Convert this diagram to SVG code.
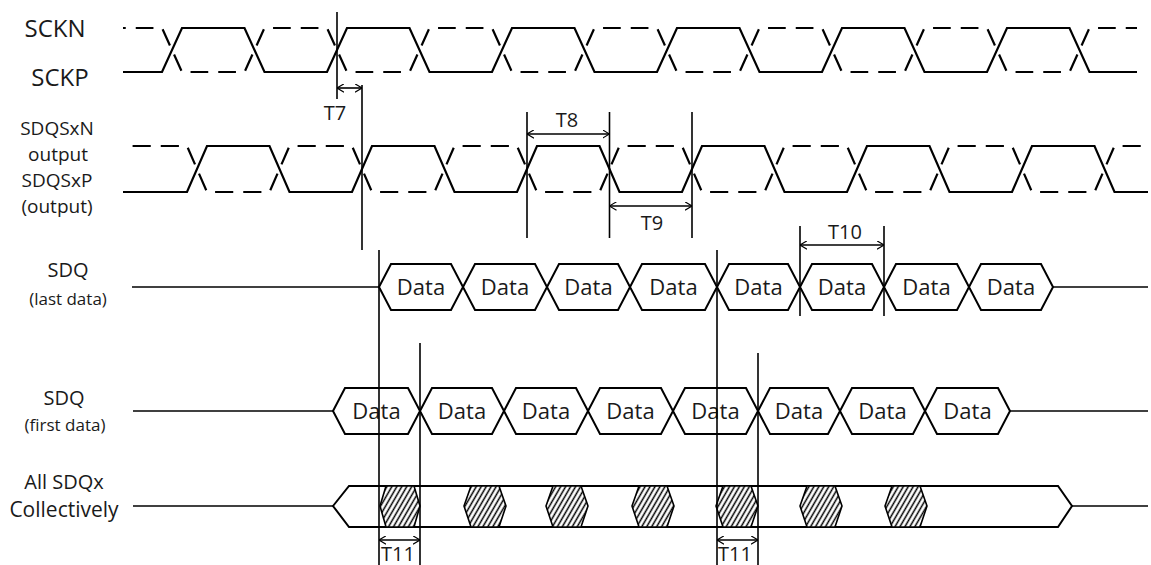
<svg xmlns="http://www.w3.org/2000/svg" width="1151" height="565" viewBox="0 0 1151 565">
<style>
text{font-family:"Open Sans","Noto Sans","Liberation Sans",sans-serif;fill:#1a1a1a}
.lbl{text-anchor:middle}
.sig{fill:none;stroke:#000;stroke-width:2.2;stroke-linejoin:miter}
.box{fill:#fff;stroke:#000;stroke-width:2}
.hat{fill:url(#hatch);stroke:#000;stroke-width:1.6}
.vl{stroke:#000;stroke-width:1.6;fill:none}
.arr{stroke:#000;stroke-width:1.6;fill:none;marker-start:url(#ah);marker-end:url(#ah)}
.dt{font-size:22px;text-anchor:middle}
.tl{font-size:20px;text-anchor:middle}
</style>
<defs>
<marker id="ah" viewBox="0 0 10 12" refX="10" refY="6" markerWidth="7" markerHeight="9" markerUnits="userSpaceOnUse" orient="auto-start-reverse">
<path d="M0,0 L10,6 L0,12" fill="none" stroke="#000" stroke-width="1.6"/>
</marker>
<pattern id="hatch" width="4.3" height="10" patternUnits="userSpaceOnUse" patternTransform="rotate(30)">
<rect width="4.3" height="10" fill="#fff"/>
<line x1="2.15" y1="0" x2="2.15" y2="10" stroke="#000" stroke-width="1.5"/>
</pattern>
</defs>
<rect width="1151" height="565" fill="#fff"/>

<g id="sck">
<text x="55" y="37" class="lbl" font-size="24">SCKN</text>
<text x="60" y="86" class="lbl" font-size="24">SCKP</text>
<path class="sig" d="M123,72 H162 L182,28 H244.5 L264.5,72 H327 L347,28 H409.5 L429.5,72 H492 L512,28 H574.5 L594.5,72 H657 L677,28 H739.5 L759.5,72 H822 L842,28 H904.5 L924.5,72 H987 L1007,28 H1069.5 L1089.5,72 H1137"/>
<path class="sig" stroke-dasharray="17.708 10" stroke-dashoffset="14.959" d="M123,28 H162 L182,72 H244.5 L264.5,28 H327 L347,72 H409.5 L429.5,28 H492 L512,72 H574.5 L594.5,28 H657 L677,72 H739.5 L759.5,28 H822 L842,72 H904.5 L924.5,28 H987 L1007,72 H1069.5 L1089.5,28 H1137"/>
</g>

<g id="sdqs">
<text x="57" y="135" class="lbl" font-size="19">SDQSxN</text>
<text x="58" y="161" class="lbl" font-size="19">output</text>
<text x="57" y="187" class="lbl" font-size="19">SDQSxP</text>
<text x="57" y="213" class="lbl" font-size="19">(output)</text>
<path class="sig" d="M123,192 H187 L207,146 H269.5 L289.5,192 H352 L372,146 H434.5 L454.5,192 H517 L537,146 H599.5 L619.5,192 H682 L702,146 H764.5 L784.5,192 H847 L867,146 H929.5 L949.5,192 H1012 L1032,146 H1094.5 L1114.5,192 H1148"/>
<path class="sig" stroke-dasharray="18.165 10" stroke-dashoffset="18.58" d="M123,146 H187 L207,192 H269.5 L289.5,146 H352 L372,192 H434.5 L454.5,146 H517 L537,192 H599.5 L619.5,146 H682 L702,192 H764.5 L784.5,146 H847 L867,192 H929.5 L949.5,146 H1012 L1032,192 H1094.5 L1114.5,146 H1148"/>
</g>

<g id="sdq-last">
<text x="68" y="277" class="lbl" font-size="20">SDQ</text>
<text x="68" y="305" class="lbl" font-size="17">(last data)</text>
<line x1="132" y1="287" x2="379" y2="287" class="vl" stroke-width="2"/>
<line x1="1053" y1="287" x2="1148" y2="287" class="vl" stroke-width="2"/>
<polygon class="box" points="379,287 391,264 451,264 463,287 451,310 391,310"/>
<polygon class="box" points="463,287 475,264 535,264 547,287 535,310 475,310"/>
<polygon class="box" points="547,287 559,264 618,264 630,287 618,310 559,310"/>
<polygon class="box" points="630,287 642,264 705,264 717,287 705,310 642,310"/>
<polygon class="box" points="717,287 729,264 788,264 800,287 788,310 729,310"/>
<polygon class="box" points="800,287 812,264 872,264 884,287 872,310 812,310"/>
<polygon class="box" points="884,287 896,264 957,264 969,287 957,310 896,310"/>
<polygon class="box" points="969,287 981,264 1041,264 1053,287 1041,310 981,310"/>
<text class="dt" x="421" y="295">Data</text>
<text class="dt" x="505" y="295">Data</text>
<text class="dt" x="588.5" y="295">Data</text>
<text class="dt" x="673.5" y="295">Data</text>
<text class="dt" x="758.5" y="295">Data</text>
<text class="dt" x="842" y="295">Data</text>
<text class="dt" x="926.5" y="295">Data</text>
<text class="dt" x="1011" y="295">Data</text>
</g>

<g id="sdq-first">
<text x="64" y="405" class="lbl" font-size="20">SDQ</text>
<text x="65" y="431" class="lbl" font-size="17">(first data)</text>
<line x1="133" y1="411" x2="333" y2="411" class="vl" stroke-width="2"/>
<line x1="1010" y1="411" x2="1148" y2="411" class="vl" stroke-width="2"/>
<polygon class="box" points="333,411 345,388 408,388 420,411 408,434 345,434"/>
<polygon class="box" points="420,411 432,388 492,388 504,411 492,434 432,434"/>
<polygon class="box" points="504,411 516,388 576,388 588,411 576,434 516,434"/>
<polygon class="box" points="588,411 600,388 661,388 673,411 661,434 600,434"/>
<polygon class="box" points="673,411 685,388 746,388 758,411 746,434 685,434"/>
<polygon class="box" points="758,411 770,388 828,388 840,411 828,434 770,434"/>
<polygon class="box" points="840,411 852,388 913,388 925,411 913,434 852,434"/>
<polygon class="box" points="925,411 937,388 998,388 1010,411 998,434 937,434"/>
<text class="dt" x="376.5" y="419">Data</text>
<text class="dt" x="462" y="419">Data</text>
<text class="dt" x="546" y="419">Data</text>
<text class="dt" x="630.5" y="419">Data</text>
<text class="dt" x="715.5" y="419">Data</text>
<text class="dt" x="799" y="419">Data</text>
<text class="dt" x="882.5" y="419">Data</text>
<text class="dt" x="967.5" y="419">Data</text>
</g>

<g id="all-sdqx">
<text x="64" y="489" class="lbl" font-size="20">All SDQx</text>
<text x="64" y="517" class="lbl" font-size="21">Collectively</text>
<line x1="133" y1="506" x2="333" y2="506" class="vl" stroke-width="2"/>
<line x1="1072" y1="506" x2="1148" y2="506" class="vl" stroke-width="2"/>
<polygon class="box" points="333,506 349,486 1058,486 1072,506 1058,527 349,527"/>
<polygon class="hat" points="386,486 414,486 420,506 414,527 386,527 380,506"/>
<polygon class="hat" points="471,486 499,486 506,506 499,527 471,527 464,506"/>
<polygon class="hat" points="553,486 581,486 588,506 581,527 553,527 546,506"/>
<polygon class="hat" points="639,486 667,486 674,506 667,527 639,527 632,506"/>
<polygon class="hat" points="723,486 751,486 758,506 751,527 723,527 716,506"/>
<polygon class="hat" points="807,486 835,486 842,506 835,527 807,527 800,506"/>
<polygon class="hat" points="892,486 920,486 927,506 920,527 892,527 885,506"/>
</g>

<g id="connectors">
<line class="vl" x1="337" y1="12" x2="337" y2="99"/>
<line class="vl" x1="362" y1="85" x2="362" y2="250"/>
<line class="vl" x1="527" y1="112" x2="527" y2="238"/>
<line class="vl" x1="609.5" y1="112" x2="609.5" y2="238"/>
<line class="vl" x1="692" y1="112" x2="692" y2="238"/>
<line class="vl" x1="800" y1="226" x2="800" y2="316"/>
<line class="vl" x1="884" y1="226" x2="884" y2="316"/>
<line class="vl" x1="379" y1="250" x2="379" y2="565"/>
<line class="vl" x1="717" y1="250" x2="717" y2="565"/>
<line class="vl" x1="420" y1="343" x2="420" y2="565"/>
<line class="vl" x1="758" y1="353" x2="758" y2="565"/>
<line class="arr" x1="337" y1="88" x2="362" y2="88"/>
<line class="arr" x1="527" y1="134" x2="609.5" y2="134"/>
<line class="arr" x1="609.5" y1="206" x2="692" y2="206"/>
<line class="arr" x1="800" y1="245" x2="884" y2="245"/>
<line class="arr" x1="379" y1="540" x2="420" y2="540"/>
<line class="arr" x1="717" y1="540" x2="758" y2="540"/>
<text class="tl" x="335" y="120">T7</text>
<text class="tl" x="567" y="127">T8</text>
<text class="tl" x="652" y="230">T9</text>
<text class="tl" x="845" y="239">T10</text>
<text class="tl" x="398" y="561">T11</text>
<text class="tl" x="735" y="561">T11</text>
</g>
</svg>
